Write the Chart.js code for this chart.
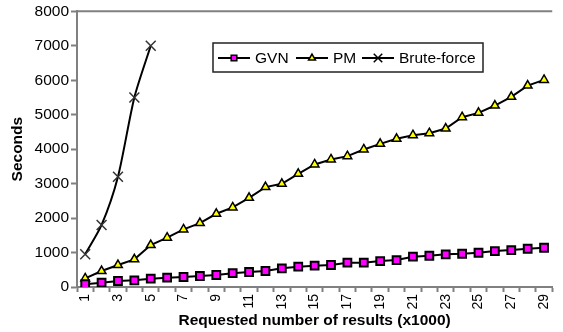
<!DOCTYPE html>
<html>
<head>
<meta charset="utf-8">
<script src="https://cdn.jsdelivr.net/npm/chart.js@4/dist/chart.umd.min.js"></script>
<style>
  html, body { margin: 0; padding: 0; background: #fff; }
  #wrap { width: 563px; height: 332px; }
</style>
</head>
<body>
<div id="wrap"><canvas id="myChart" width="563" height="332"></canvas></div>
<script>
// Datos
var categorias = ['1','2','3','4','5','6','7','8','9','10','11','12','13','14','15','16','17','18','19','20','21','22','23','24','25','26','27','28','29'];
var gvn = [80,125,174,193,241,270,290,319,348,400,435,464,542,589,618,638,706,706,754,783,879,907,948,965,994,1043,1072,1110,1139];
var pm = [250,464,638,802,1217,1430,1672,1855,2125,2310,2588,2899,2994,3284,3556,3700,3797,3990,4154,4300,4406,4464,4599,4928,5053,5266,5517,5845,6009];
var bruteForce = [950,1800,3200,5500,7000];
var yTicks = [0,1000,2000,3000,4000,5000,6000,7000,8000];

var gris = '#808080';
var fuente = '"Liberation Sans", Arial, sans-serif';

// Dibuja la linea superior y la leyenda con recuadro
var leyendaPlugin = {
    id: 'leyendaCaja',
    afterDraw: function (chart) {
        var ctx = chart.ctx;
        var area = chart.chartArea;
        ctx.save();
        ctx.strokeStyle = gris;
        ctx.lineWidth = 2;
        ctx.beginPath();
        ctx.moveTo(area.left, area.top);
        ctx.lineTo(area.right, area.top);
        ctx.stroke();

        // recuadro
        ctx.strokeStyle = '#222';
        ctx.lineWidth = 1.5;
        ctx.fillStyle = '#fff';
        ctx.fillRect(213, 43, 270, 29);
        ctx.strokeRect(213, 43, 270, 29);

        var y = 58;
        var items = [
            { x: 218, texto: 'GVN', ds: 0 },
            { x: 296, texto: 'PM', ds: 1 },
            { x: 362, texto: 'Brute-force', ds: 2 }
        ];
        ctx.font = '15.5px ' + fuente;
        ctx.textBaseline = 'middle';
        items.forEach(function (it) {
            var ds = chart.data.datasets[it.ds];
            ctx.strokeStyle = '#000';
            ctx.lineWidth = 2;
            ctx.beginPath();
            ctx.moveTo(it.x, y);
            ctx.lineTo(it.x + 32, y);
            ctx.stroke();
            ctx.fillStyle = ds.pointBackgroundColor || '#000';
            ctx.strokeStyle = '#000';
            ctx.lineWidth = 1.5;
            Chart.helpers.drawPoint(ctx, {
                pointStyle: ds.pointStyle,
                radius: ds.pointStyle === 'crossRot' ? 6 : 4,
                rotation: 0,
                borderWidth: 1.5
            }, it.x + 16, y);
            ctx.fillStyle = '#000';
            ctx.fillText(it.texto, it.x + 37, y + 1);
        });
        ctx.restore();
    }
};

document.addEventListener('DOMContentLoaded', function () {
    var ctx = document.getElementById('myChart').getContext('2d');

    var chartData = {
        labels: categorias,
        datasets: [{
            label: 'GVN',
            data: gvn,
            borderColor: '#000',
            borderWidth: 2,
            pointStyle: 'rect',
            pointRadius: 5.5,
            pointBackgroundColor: '#ff00ff',
            pointBorderColor: '#000',
            pointBorderWidth: 2,
            tension: 0
        }, {
            label: 'PM',
            data: pm,
            borderColor: '#000',
            borderWidth: 2,
            pointStyle: 'triangle',
            pointRadius: 5,
            pointBackgroundColor: '#ffff00',
            pointBorderColor: '#000',
            pointBorderWidth: 1.5,
            tension: 0
        }, {
            label: 'Brute-force',
            data: bruteForce,
            borderColor: '#000',
            borderWidth: 2,
            pointStyle: 'crossRot',
            pointRadius: 7,
            pointBorderColor: '#333',
            pointBorderWidth: 1.5,
            tension: 0.25
        }]
    };

    var chartOptions = {
        responsive: false,
        animation: false,
        layout: { padding: { top: 10, right: 0, left: 0, bottom: 0 } },
        plugins: {
            legend: { display: false },
            tooltip: { enabled: false }
        },
        scales: {
            x: {
                offset: true,
                grid: { offset: true, drawOnChartArea: false, tickLength: 5, tickColor: gris, tickWidth: 2 },
                border: { color: gris, width: 2 },
                ticks: {
                    autoSkip: false,
                    minRotation: 90,
                    maxRotation: 90,
                    padding: 2,
                    color: '#000',
                    font: { family: fuente, size: 14 },
                    callback: function (v, i) { return i % 2 === 0 ? categorias[i] : ''; }
                },
                title: {
                    display: true,
                    text: 'Requested number of results (x1000)',
                    color: '#000',
                    font: { family: fuente, size: 15.5, weight: 'bold' },
                    padding: { top: 0, bottom: 2 }
                },
                afterFit: function (scale) { scale.height = 45; }
            },
            y: {
                min: 0,
                max: 8000,
                afterBuildTicks: function (scale) {
                    scale.ticks = yTicks.map(function (v) { return { value: v }; });
                },
                grid: { drawOnChartArea: false, tickLength: 6, tickColor: gris, tickWidth: 2 },
                border: { color: gris, width: 2 },
                ticks: {
                    padding: 2,
                    color: '#000',
                    font: { family: fuente, size: 15.5 },
                    callback: function (v) { return String(v); }
                },
                title: {
                    display: true,
                    text: 'Seconds',
                    color: '#000',
                    font: { family: fuente, size: 15.5, weight: 'bold' },
                    padding: { top: 8, bottom: 0 }
                },
                afterFit: function (scale) { scale.width = 77; }
            }
        }
    };

    new Chart(ctx, {
        type: 'line',
        data: chartData,
        options: chartOptions,
        plugins: [leyendaPlugin]
    });
});
</script>
</body>
</html>
